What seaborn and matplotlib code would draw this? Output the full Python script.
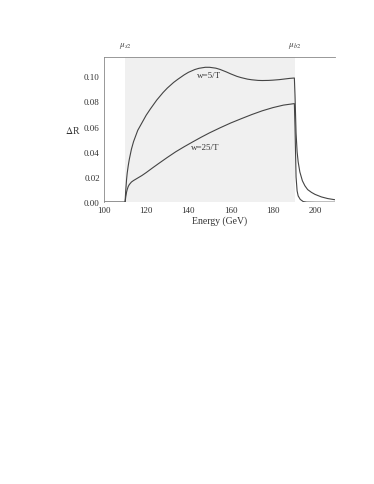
import numpy as np
import pandas as pd
import matplotlib
matplotlib.use("Agg")
import matplotlib.pyplot as plt
import seaborn as sns
from matplotlib.transforms import blended_transform_factory

# curve w=5/T
e_w5 = [100, 110, 110.3, 110.7, 111, 111.5, 112, 113, 114, 116, 118, 120, 122, 125, 128, 130, 133, 135,
        138, 140, 143, 145, 148, 150, 153, 155, 158, 160, 163, 165, 168, 170, 173, 175, 178, 180, 183,
        185, 188, 190.2, 190.5, 191, 191.5, 192, 192.8, 194, 195.2, 196.5, 198.3, 200, 203, 206, 210]
r_w5 = [0, 0, 0.009, 0.018, 0.023, 0.029, 0.034, 0.042, 0.048, 0.057, 0.063, 0.069, 0.074, 0.081, 0.087,
        0.0905, 0.095, 0.0975, 0.101, 0.103, 0.1052, 0.1062, 0.1070, 0.1070, 0.1063, 0.1053, 0.1033,
        0.1018, 0.0998, 0.0988, 0.0976, 0.0971, 0.0966, 0.0965, 0.0966, 0.0968, 0.0972, 0.0976, 0.0982,
        0.0985, 0.085, 0.055, 0.040, 0.032, 0.024, 0.017, 0.013, 0.010, 0.0078, 0.0062, 0.0042,
        0.0029, 0.0018]

# curve w=25/T
e_w25 = [100, 110, 110.3, 110.7, 111, 111.5, 112, 113, 114, 116, 118, 120, 123, 126, 130, 134, 138, 142,
         146, 150, 155, 160, 165, 170, 175, 180, 185, 190.2, 190.5, 191, 191.5, 192, 193, 194.4, 196,
         200, 205, 210]
r_w25 = [0, 0, 0.004, 0.008, 0.010, 0.0125, 0.014, 0.016, 0.0172, 0.0192, 0.0212, 0.0235, 0.0272,
         0.0308, 0.0355, 0.0400, 0.0440, 0.0478, 0.0515, 0.0550, 0.0590, 0.0628, 0.0662, 0.0695,
         0.0725, 0.0750, 0.0770, 0.0782, 0.060, 0.020, 0.009, 0.005, 0.0022, 0.0005, 0.0001,
         0.0, 0.0, 0.0]

band = (110, 190.3)
band_labels = [r"$\mu_{s2}$", r"$\mu_{b2}$"]

df = pd.concat([
    pd.DataFrame({"E": e_w5, "R": r_w5, "curve": "w=5/T"}),
    pd.DataFrame({"E": e_w25, "R": r_w25, "curve": "w=25/T"}),
])

sns.set_theme(style="white")
plt.rcParams["font.family"] = ["Liberation Serif", "DejaVu Serif"]
plt.rcParams["mathtext.fontset"] = "stix"

fig = plt.figure(figsize=(3.74, 4.85), dpi=100)
ax = fig.add_axes([0.278, 0.581, 0.618, 0.299])

ax.axvspan(band[0], band[1], color="#f0f0f0", lw=0, zorder=0)
sns.lineplot(data=df, x="E", y="R", units="curve", estimator=None, sort=False,
             color="#444444", lw=0.8, ax=ax, legend=False)

ax.set_xlim(100, 209.5)
ax.set_ylim(0, 0.115)
ax.set_xticks([100, 120, 140, 160, 180, 200])
ax.set_yticks([0, 0.02, 0.04, 0.06, 0.08, 0.10])
ax.set_yticklabels([f"{v:.2f}" for v in [0, 0.02, 0.04, 0.06, 0.08, 0.10]])
ax.tick_params(axis="both", labelsize=6.5, colors="#333333", length=2, width=0.5,
               direction="in", pad=3)
ax.tick_params(axis="x", length=0)

for s in ["right", "bottom"]:
    ax.spines[s].set_visible(False)
for s in ["left", "top"]:
    ax.spines[s].set_color("#888888")
    ax.spines[s].set_linewidth(0.6)

ax.set_xlabel("Energy (GeV)", fontsize=7, color="#333333", labelpad=1)
ax.set_ylabel(r"$\Delta$R", fontsize=7, color="#333333", rotation=0, labelpad=8, va="center")

ax.text(150, 0.1005, "w=5/T", fontsize=6.5, color="#333333", ha="center", va="center")
ax.text(148, 0.0435, "w=25/T", fontsize=6.5, color="#333333", ha="center", va="center")

trans = blended_transform_factory(ax.transData, ax.transAxes)
for xv, lab in zip(band, band_labels):
    ax.text(xv, 1.05, lab, transform=trans, fontsize=6.5, color="#444444", ha="center", va="bottom")

fig.savefig("out.png", dpi=100)
